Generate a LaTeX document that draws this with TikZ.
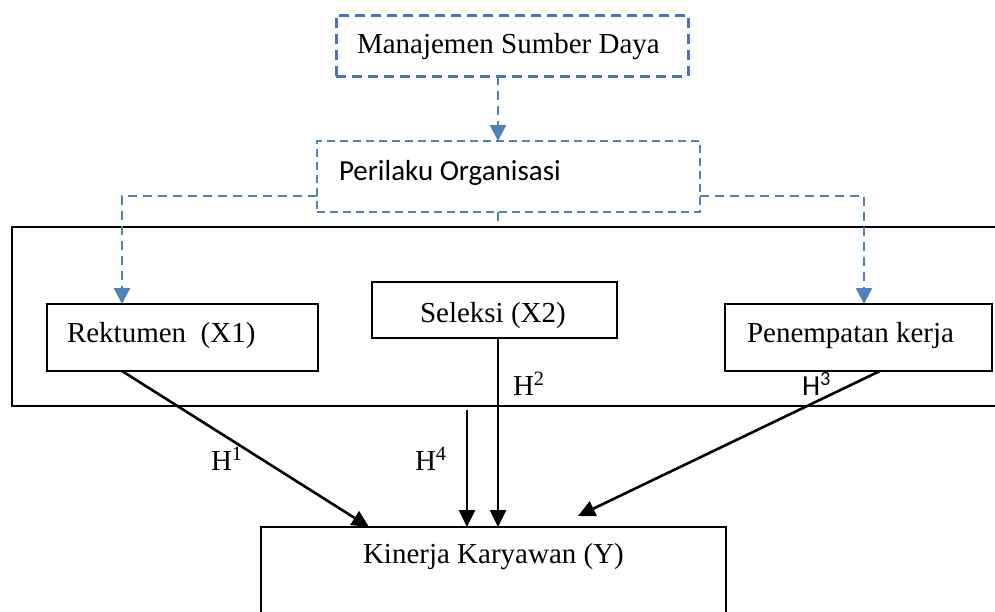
\documentclass[tikz,border=0pt]{standalone}
\usepackage{fontspec}
\setmainfont{Liberation Serif}
\newfontfamily\calib{Carlito}
\usetikzlibrary{arrows.meta,calc}
\definecolor{bl}{RGB}{68,114,196}
\definecolor{bl2}{RGB}{79,129,189}
\begin{document}
\begin{tikzpicture}[x=1pt,y=-1pt,
  every node/.style={inner sep=0pt,outer sep=0pt},
  txt/.style={anchor=base west,font=\fontsize{29}{34}\selectfont},
  stxt/.style={anchor=base west,font=\calib\fontsize{29}{34}\selectfont},
  bbox/.style={draw=black,line width=2.2pt,rectangle},
  dbox1/.style={draw=bl,line width=3pt,dash pattern=on 10pt off 6pt,rectangle},
  dbox2/.style={draw=bl2,line width=2.2pt,dash pattern=on 8pt off 5pt,rectangle},
  darr/.style={draw=bl2,line width=2.6pt,dash pattern=on 9pt off 6pt,-{Triangle[length=16pt,width=16pt]}},
  dline/.style={draw=bl2,line width=2.6pt,dash pattern=on 9pt off 6pt},
  arr/.style={draw=black,line width=2.6pt,-{Triangle[length=17pt,width=16pt]}}]
\clip (0,0) rectangle (995,611);
\useasboundingbox (0,0) rectangle (995,611);
% frame (open at right edge)
\draw[line width=2.2pt] (1010,227) -- (12,227) -- (12,406) -- (1010,406);
% boxes
\node[dbox1,minimum width=352pt,minimum height=61pt] (msd) at (512,45.5) {};
\node[dbox2,minimum width=383pt,minimum height=71pt] (per) at (508.5,176.5) {};
\node[bbox,fill=white,minimum width=271pt,minimum height=67pt] (rek) at (182.5,337.5) {};
\node[bbox,fill=white,minimum width=245pt,minimum height=56pt] (sel) at (494.5,310) {};
\node[bbox,fill=white,minimum width=267pt,minimum height=67pt] (pen) at (858.5,337.5) {};
\node[bbox,fill=white,minimum width=465pt,minimum height=113pt] (kin) at (493.5,583.5) {};
% texts
\node[txt] (tmsd) at (357,53) {Manajemen Sumber Daya};
\node[stxt] (tper) at (339,180) {Perilaku Organisasi};
\node[txt] (trek) at (67,342) {Rektumen\ \ (X1)};
\node[txt] (tsel) at (420,322) {Seleksi (X2)};
\node[txt] (tpen) at (747,342) {Penempatan kerja};
\node[txt] (tkin) at (363,563) {Kinerja Karyawan (Y)};
% coordinates
\coordinate (msdb) at (498,76);
\coordinate (pert) at (498,141);
\coordinate (perb) at (498,212);
\coordinate (frt) at (498,227);
\coordinate (pl) at (317,196);
\coordinate (pr) at (700,196);
\coordinate (rekt) at (122,304);
\coordinate (pent) at (864,304);
\coordinate (rekb) at (122,371);
\coordinate (k1) at (369,527);
\coordinate (selb) at (498,338);
\coordinate (k2) at (498,527);
\coordinate (h4s) at (467,410);
\coordinate (k4) at (467,527);
\coordinate (penb) at (880,371);
\coordinate (k3) at (578,516);
% blue connectors
\draw[darr] (msdb) -- (pert);
\draw[dline] (perb) -- (frt);
\draw[darr] (pl) -| (rekt);
\draw[darr] (pr) -| (pent);
% black connectors
\draw[arr] (rekb) -- (k1);
\draw[arr] (selb) -- (k2);
\draw[arr] (h4s) -- (k4);
\draw[arr] (penb) -- (k3);
% labels
\node[txt] (h1) at (211,470) {H\textsuperscript{1}};
\node[txt] (h4) at (415,470) {H\textsuperscript{4}};
\node[txt] (h2) at (513,395) {H\textsuperscript{2}};
\node[stxt] (h3) at (802,395) {H\textsuperscript{3}};
\end{tikzpicture}
\end{document}
